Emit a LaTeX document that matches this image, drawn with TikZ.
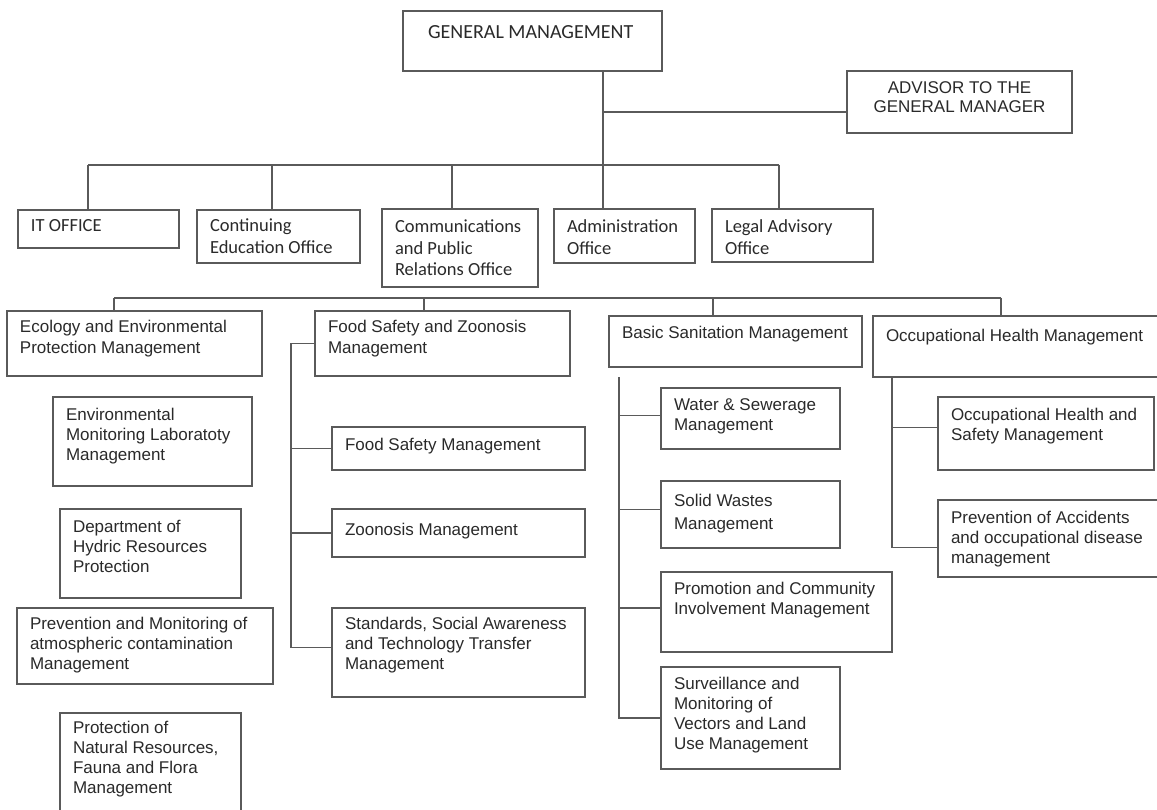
\documentclass[tikz,border=0pt]{standalone}
\usepackage{fontspec}
\setmainfont{Liberation Sans}
\newfontfamily\calib{Carlito}

\definecolor{boxline}{HTML}{5A5A5A}
\definecolor{ink}{HTML}{2A2A2A}

\tikzset{
  orgbox/.style={draw=boxline, line width=1.7pt, inner sep=0pt, outer sep=0pt,
                 anchor=north west, text=ink},
  lowtier/.style={orgbox, font=\fontsize{17}{20}\selectfont},
  toptier/.style={orgbox, font=\calib\fontsize{18.5}{21.5}\selectfont},
  conn/.style={draw=boxline, line width=1.4pt},
}

% #1 style, #2 name, #3 x, #4 y (top-left corner), #5 width, #6 height,
% #7 distance from the top edge to the first baseline, #8 text
\newcommand\orgunit[8][lowtier]{%
  \node[#1] (#2) at (#3,#4)
    {\parbox[c][#6pt][t]{#5pt}{\raggedright\leftskip=13pt\relax\rule{0pt}{#7pt}#8\par}};}

\begin{document}
\begin{tikzpicture}[x=1pt, y=-1pt]
\clip (0,0) rectangle (1157,810);
\fill[white] (0,0) rectangle (1157,810);

% --- top level -------------------------------------------------------
\orgunit[toptier, font=\calib\fontsize{20}{24}\selectfont]{gm}{403}{11}{259}{60}{28}{\hspace*{12pt}GENERAL MANAGEMENT}
\node[orgbox, font=\fontsize{17}{19}\selectfont] (adv) at (847,71)
  {\parbox[c][62pt][t]{225pt}{\centering\rule{0pt}{23pt}ADVISOR TO THE\\GENERAL MANAGER\par}};

% --- offices -----------------------------------------------------------
\orgunit[toptier]{it}{18}{210}{161}{38}{22}{IT OFFICE}
\orgunit[toptier]{cont}{197}{210}{163}{53}{22}{Continuing\\Education Office}
\orgunit[toptier]{comm}{382}{209}{156}{78}{24}{Communications\\and Public\\Relations Office}
\orgunit[toptier]{admin}{554}{209}{141}{54}{24}{Administration\\Office}
\orgunit[toptier]{legal}{712}{209}{161}{53}{24}{Legal Advisory\\Office}

% --- managements -------------------------------------------------------
\orgunit{eco}{7}{311}{255}{65}{22}{Ecology and Environmental\\Protection Management}
\orgunit{food}{315}{311}{255}{65}{22}{Food Safety and Zoonosis\\Management}
\orgunit{basic}{609}{316}{253}{51}{23}{Basic Sanitation Management}
\orgunit{occ}{873}{316}{300}{61}{25}{Occupational Health Management}

% ecology units
\orgunit{envmon}{53}{397}{199}{89}{23}{Environmental\\Monitoring Laboratoty\\Management}
\orgunit{hydric}{60}{509}{181}{89}{23}{Department of\\Hydric Resources\\Protection}
\orgunit{atmo}{17}{608}{256}{76}{21}{Prevention and Monitoring of\\atmospheric contamination\\Management}
\orgunit{natres}{60}{713}{181}{110}{20}{Protection of\\Natural Resources,\\Fauna and Flora\\Management}

% food safety units
\orgunit{fsm}{332}{427}{253}{43}{23}{Food Safety Management}
\orgunit{zoo}{332}{509}{253}{48}{26}{Zoonosis Management}
\orgunit{std}{332}{608}{253}{89}{21}{Standards, Social Awareness\\and Technology Transfer\\Management}

% basic sanitation units
\orgunit{water}{661}{388}{179}{61}{22}{Water \& Sewerage\\Management}
\orgunit{solid}{661}{481}{179}{67}{25}{Solid Wastes\\[3pt]Management}
\orgunit{promo}{661}{572}{231}{80}{22}{Promotion and Community\\Involvement Management}
\orgunit{surv}{661}{667}{179}{102}{22}{Surveillance and\\Monitoring of\\Vectors and Land\\Use Management}

% occupational health units
\orgunit{ohs}{938}{397}{216}{73}{23}{Occupational Health and\\Safety Management}
\orgunit{prevacc}{938}{500}{230}{77}{23}{Prevention of Accidents\\and occupational disease\\management}

% --- connectors: general management and offices -------------------------
\coordinate (advj) at (603,112);
\draw[conn] (gm.south -| advj) -- (admin.north -| advj);
\draw[conn] (advj) -- (advj -| adv.west);

\coordinate (busA) at (88,165);
\coordinate (busB) at (779,165);
\coordinate (dCont) at (272,165);
\coordinate (dComm) at (452,165);
\draw[conn] (busA) -- (busB);
\draw[conn] (busA) -- (busA |- it.north);
\draw[conn] (dCont) -- (dCont |- cont.north);
\draw[conn] (dComm) -- (dComm |- comm.north);
\draw[conn] (busB) -- (busB |- legal.north);

% --- connectors: managements ------------------------------------------
\coordinate (busC) at (114,298);
\coordinate (busD) at (1001,298);
\coordinate (dFood) at (424,298);
\coordinate (dBasic) at (713,298);
\draw[conn] (busC) -- (busD);
\draw[conn] (busC) -- (busC |- eco.north);
\draw[conn] (dFood) -- (dFood |- food.north);
\draw[conn] (dBasic) -- (dBasic |- basic.north);
\draw[conn] (busD) -- (busD |- occ.north);

% food safety spine
\coordinate (fspine) at (291,345);
\coordinate (stdin) at ([yshift=5pt]std.west);
\draw[conn] (food.west) -| (fspine |- stdin) -- (stdin);
\draw[conn] (fsm.west) -- (fsm.west -| fspine);
\draw[conn] (zoo.west) -- (zoo.west -| fspine);

% basic sanitation spine
\coordinate (bspine) at (619,377);
\coordinate (waterin) at ([yshift=3pt]water.west);
\coordinate (solidin) at ([yshift=5pt]solid.west);
\coordinate (promoin) at ([yshift=4pt]promo.west);
\draw[conn] (bspine) |- (surv.west);
\draw[conn] (waterin) -- (waterin -| bspine);
\draw[conn] (solidin) -- (solidin -| bspine);
\draw[conn] (promoin) -- (promoin -| bspine);

% occupational health spine
\coordinate (ospine) at (892,377);
\coordinate (ohsin) at ([yshift=6pt]ohs.west);
\coordinate (previn) at ([yshift=-9pt]prevacc.west);
\draw[conn] (occ.south -| ospine) |- (previn);
\draw[conn] (ohsin) -- (ohsin -| ospine);
\end{tikzpicture}
\end{document}
